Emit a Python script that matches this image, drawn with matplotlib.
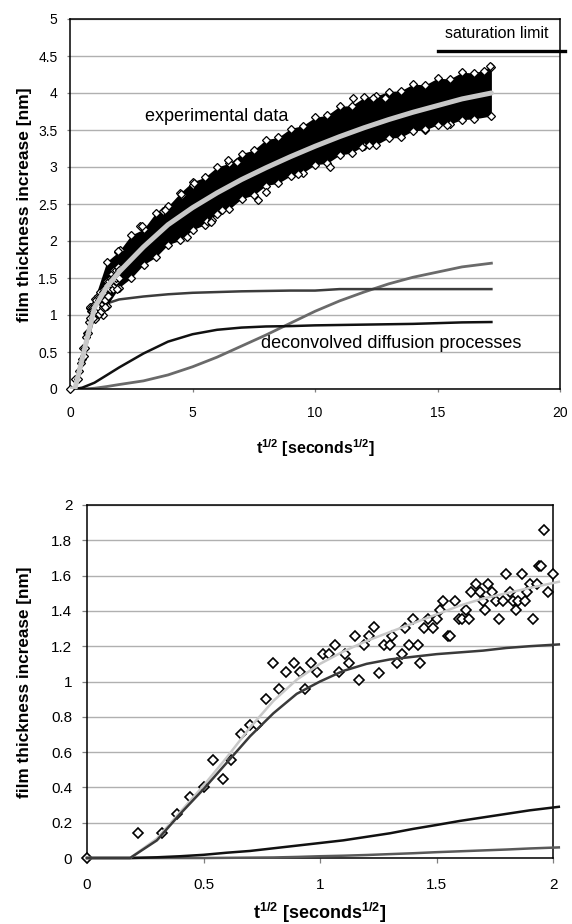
import matplotlib
matplotlib.use("Agg")
import matplotlib.pyplot as plt
from matplotlib.ticker import FuncFormatter

plt.rcParams['font.family'] = ['Liberation Sans', 'DejaVu Sans']
plt.rcParams['mathtext.fontset'] = 'custom'
plt.rcParams['mathtext.rm'] = 'Liberation Sans'
plt.rcParams['mathtext.bf'] = 'Liberation Sans:bold'
plt.rcParams['mathtext.default'] = 'bf'

# ---------------- bottom panel data (early times) ----------------
bx = [0, 0.22, 0.32, 0.385, 0.44, 0.50, 0.54, 0.585, 0.62, 0.66, 0.70, 0.73, 0.77, 0.80,
      0.824, 0.855, 0.888, 0.914, 0.936, 0.961, 0.987, 1.012, 1.04, 1.064, 1.08, 1.107,
      1.125, 1.15, 1.167, 1.19, 1.21, 1.23, 1.253, 1.275, 1.30, 1.31, 1.33, 1.35, 1.365,
      1.38, 1.40, 1.42, 1.43, 1.447, 1.465, 1.485, 1.50, 1.515, 1.53, 1.55, 1.56, 1.58,
      1.595, 1.61, 1.627, 1.64, 1.65, 1.67, 1.687, 1.70, 1.71, 1.72, 1.74, 1.755, 1.77,
      1.785, 1.80, 1.815, 1.83, 1.84, 1.85, 1.865, 1.88, 1.89, 1.90, 1.915, 1.93, 1.94,
      1.95, 1.96, 1.98, 2.0]
by = [0, 0.14, 0.14, 0.25, 0.345, 0.40, 0.555, 0.45, 0.555, 0.70, 0.755, 0.755, 0.90, 1.105,
      0.96, 1.055, 1.105, 1.055, 0.955, 1.105, 1.055, 1.155, 1.155, 1.205, 1.055, 1.155,
      1.105, 1.26, 1.01, 1.205, 1.26, 1.31, 1.05, 1.205, 1.205, 1.26, 1.105, 1.155, 1.305,
      1.205, 1.355, 1.205, 1.105, 1.305, 1.355, 1.305, 1.355, 1.405, 1.455, 1.26, 1.26, 1.455,
      1.355, 1.355, 1.405, 1.355, 1.505, 1.555, 1.505, 1.455, 1.405, 1.555, 1.505, 1.455, 1.355,
      1.455, 1.61, 1.505, 1.455, 1.405, 1.455, 1.61, 1.455, 1.505, 1.555, 1.355, 1.555, 1.655,
      1.655, 1.86, 1.505, 1.61]

cbx = [0, 0.185, 0.3, 0.4, 0.5, 0.6, 0.7, 0.8, 0.9, 1.0, 1.1, 1.2, 1.3, 1.4, 1.5, 1.6, 1.7, 1.8, 1.9, 2.025]
fit_b = [0, 0, 0.11, 0.26, 0.41, 0.57, 0.74, 0.89, 1.01, 1.10, 1.17, 1.23, 1.28, 1.33, 1.38, 1.43, 1.47, 1.50, 1.53, 1.565]
fast_b = [0, 0, 0.10, 0.25, 0.39, 0.54, 0.69, 0.82, 0.93, 1.00, 1.06, 1.10, 1.125, 1.14, 1.155, 1.165, 1.175, 1.19, 1.20, 1.21]
mid_b = [0, 0, 0.004, 0.01, 0.018, 0.03, 0.04, 0.055, 0.07, 0.085, 0.10, 0.12, 0.14, 0.165, 0.187, 0.21, 0.23, 0.25, 0.27, 0.29]
slow_b = [0, 0, 0, 0, 0, 0.001, 0.002, 0.003, 0.006, 0.01, 0.013, 0.017, 0.022, 0.027, 0.033, 0.038, 0.043, 0.048, 0.054, 0.06]

# ---------------- top panel data (full range) ----------------
ctx = [0, 0.2, 0.5, 1.0, 1.5, 2, 3, 4, 5, 6, 7, 8, 9, 10, 11, 12, 13, 14, 15, 16, 17.2]
fit_t = [0, 0, 0.41, 1.10, 1.38, 1.58, 1.92, 2.22, 2.45, 2.65, 2.83, 2.99, 3.14, 3.28, 3.41, 3.53, 3.64, 3.74, 3.83, 3.92, 4.0]
fast_t = [0, 0, 0.39, 1.00, 1.155, 1.21, 1.25, 1.28, 1.30, 1.31, 1.32, 1.325, 1.33, 1.33, 1.35, 1.35, 1.35, 1.35, 1.35, 1.35, 1.35]
mid_t = [0, 0, 0.018, 0.085, 0.187, 0.29, 0.48, 0.64, 0.74, 0.80, 0.83, 0.845, 0.85, 0.86, 0.865, 0.87, 0.875, 0.88, 0.89, 0.90, 0.905]
slow_t = [0, 0, 0, 0.01, 0.033, 0.06, 0.11, 0.19, 0.30, 0.43, 0.58, 0.73, 0.89, 1.05, 1.19, 1.31, 1.42, 1.51, 1.58, 1.65, 1.70]

# dense experimental data cloud: envelope of the scatter band
env_x = [1.0, 1.5, 2.0, 2.5, 3.0, 3.5, 4.0, 4.5, 5.0, 5.5, 6.0, 6.5, 7.0, 7.5, 8.0, 8.5, 9.0,
         9.5, 10, 10.5, 11, 11.5, 12, 12.5, 13, 13.5, 14, 14.5, 15, 15.5, 16, 16.5, 17.2]
env_hi = [1.22, 1.72, 1.86, 2.08, 2.16, 2.38, 2.47, 2.65, 2.80, 2.86, 3.00, 3.05, 3.18, 3.23, 3.37, 3.40,
          3.52, 3.56, 3.67, 3.70, 3.82, 3.83, 3.94, 3.96, 4.02, 4.03, 4.12, 4.11, 4.20, 4.19, 4.28, 4.27, 4.35]
env_lo = [0.95, 1.12, 1.37, 1.50, 1.68, 1.78, 1.95, 2.01, 2.15, 2.22, 2.37, 2.43, 2.57, 2.62, 2.75, 2.78,
          2.88, 2.92, 3.03, 3.05, 3.16, 3.19, 3.29, 3.30, 3.39, 3.40, 3.49, 3.50, 3.57, 3.58, 3.64, 3.65, 3.69]
# scattered points outside the dense band
out_x = [0.82, 1.22, 1.35, 1.97, 2.04, 2.86, 2.93, 3.8, 3.88, 4.57, 4.53, 5.0, 5.06, 4.77, 5.6,
         5.8, 5.75, 6.2, 6.45, 6.8, 7.67, 8.0, 9.3, 10.6, 11.55, 12.37, 12.87, 11.9, 12.2, 14.5,
         15.4, 17.15, 16.9]
out_y = [1.09, 1.2, 1.0, 1.85, 1.88, 2.2, 2.2, 2.4, 2.42, 2.62, 2.63, 2.76, 2.79, 2.05, 2.27,
         2.28, 2.26, 2.42, 3.09, 3.07, 2.55, 2.66, 2.9, 3.0, 3.93, 3.93, 3.93, 3.27, 3.3, 3.52,
         3.57, 4.36, 4.3]

sat_x = [15, 20.2]
sat_y = [4.57, 4.57]

top_xticks = [0, 5, 10, 15, 20]
top_yticks = [0, 0.5, 1, 1.5, 2, 2.5, 3, 3.5, 4, 4.5, 5]
bot_xticks = [0, 0.5, 1, 1.5, 2]
bot_yticks = [0, 0.2, 0.4, 0.6, 0.8, 1, 1.2, 1.4, 1.6, 1.8, 2]

W, H = 572, 924
fig = plt.figure(figsize=(W / 100, H / 100), dpi=100)

def px_axes(l, t, r, b):
    return fig.add_axes([l / W, 1 - b / H, (r - l) / W, (b - t) / H])

fmt = FuncFormatter(lambda v, p: '%g' % v)

def style(ax, xt, yt, tlen, ypad, xpad, fs):
    ax.set_xticks(xt)
    ax.set_yticks(yt)
    ax.xaxis.set_major_formatter(fmt)
    ax.yaxis.set_major_formatter(fmt)
    ax.yaxis.grid(True, color='#b0b0b0', lw=1.0)
    ax.set_axisbelow(True)
    for s in ax.spines.values():
        s.set_color('black')
        s.set_linewidth(1.1)
    ax.tick_params(axis='y', direction='out', length=tlen, width=0.9, color='#808080', pad=ypad, labelsize=fs)
    ax.tick_params(axis='x', direction='out', length=tlen, width=0.9, color='#808080', pad=xpad, labelsize=fs)

# ---------------- top panel ----------------
ax1 = px_axes(70, 19, 560, 389)
ax1.set_xlim(0, 20)
ax1.set_ylim(0, 5)
style(ax1, top_xticks, top_yticks, 2.5, 6.5, 10, 10)

ax1.plot(ctx, slow_t, color='#6a6a6a', lw=2.0, zorder=2)
ax1.plot(ctx, mid_t, color='#111111', lw=1.8, zorder=2)
ax1.plot(ctx, fast_t, color='#3c3c3c', lw=1.8, zorder=2)
ax1.fill_between(env_x, env_lo, env_hi, color='black', lw=0, zorder=3)
mk = dict(marker='D', ms=4.5, mfc='white', mec='black', mew=0.9, ls='none', zorder=4, clip_on=False)
ax1.plot(env_x, env_hi, **mk)
ax1.plot(env_x, env_lo, **mk)
ax1.plot(out_x, out_y, **mk)
ax1.plot(bx, by, **mk)
ax1.plot(ctx, fit_t, color='#c8c8c8', lw=3.6, zorder=5, solid_capstyle='round')
ax1.plot(sat_x, sat_y, color='black', lw=2.4, zorder=6, clip_on=False)

ax1.text(6.0, 3.68, 'experimental data', fontsize=13, ha='center', va='center')
ax1.text(13.1, 0.62, 'deconvolved diffusion processes', fontsize=13, ha='center', va='center')
ax1.text(17.4, 4.81, 'saturation limit', fontsize=11.5, ha='center', va='center')

fig.text(25 / W, 1 - 205 / H, 'film thickness increase [nm]', rotation=90, ha='center', va='center',
         fontsize=12.5, fontweight='bold')
fig.text(315 / W, 1 - 448 / H, r'$t^{1/2}$ [seconds$^{1/2}$]', ha='center', va='center',
         fontsize=11.5, fontweight='bold')

# ---------------- bottom panel ----------------
ax2 = px_axes(87, 505, 553, 858)
ax2.set_xlim(0, 2)
ax2.set_ylim(0, 2)
style(ax2, bot_xticks, bot_yticks, 3.6, 7, 11, 11)

mk2 = dict(marker='D', ms=5.0, mfc='white', mec='black', mew=1.2, ls='none', zorder=3, clip_on=False)
ax2.plot(bx, by, **mk2)
ax2.plot(cbx, slow_b, color='#5a5a5a', lw=1.8, zorder=4, clip_on=False)
ax2.plot(cbx, mid_b, color='#111111', lw=1.8, zorder=4, clip_on=False)
ax2.plot(cbx, fit_b, color='#c8c8c8', lw=1.8, zorder=4, clip_on=False)
ax2.plot(cbx, fast_b, color='#3a3a3a', lw=1.8, zorder=4, clip_on=False)

fig.text(25 / W, 1 - 682 / H, 'film thickness increase [nm]', rotation=90, ha='center', va='center',
         fontsize=12.3, fontweight='bold')
fig.text(320 / W, 1 - 913 / H, r'$t^{1/2}$ [seconds$^{1/2}$]', ha='center', va='center',
         fontsize=13, fontweight='bold')

fig.savefig('out.png', dpi=100)
